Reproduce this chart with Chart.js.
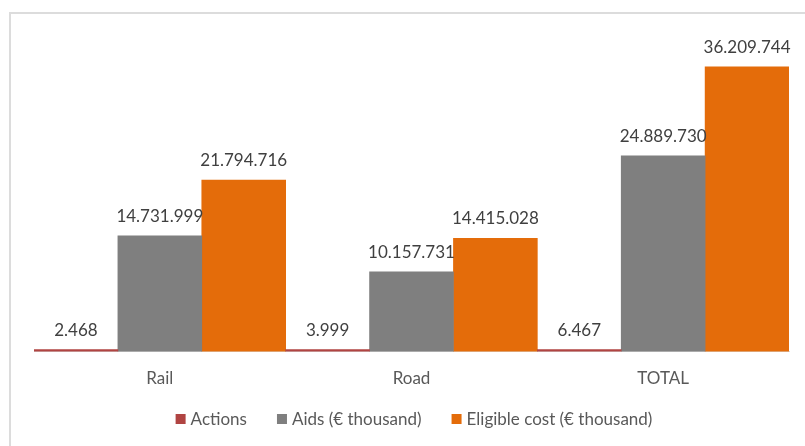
<!DOCTYPE html>
<html>
<head>
<meta charset="utf-8">
<script src="https://cdn.jsdelivr.net/npm/chart.js@4"></script>
<style>
  html, body { margin: 0; padding: 0; background: #fff; }
  #wrap { width: 805px; height: 446px; }
</style>
</head>
<body>
<div id="wrap"><canvas id="aidChart" width="805" height="446"></canvas></div>
<script>
const categories = ['Rail', 'Road', 'TOTAL'];
const actions = [2468, 3999, 6467];
const aids = [14731999, 10157731, 24889730];
const eligibleCost = [21794716, 14415028, 36209744];
const seriesNames = ['Actions', 'Aids (€ thousand)', 'Eligible cost (€ thousand)'];
const seriesColors = ['#b04442', '#7f7f7f', '#e46c0a'];

const FONT = 'Lato, "Open Sans", sans-serif';

// 36209744 -> "36.209.744"
function dotted(n) {
  return String(n).replace(/\B(?=(\d{3})+(?!\d))/g, '.');
}

// light frame around the whole chart
const frame = {
  id: 'frame',
  beforeDraw(chart) {
    const ctx = chart.ctx;
    ctx.save();
    ctx.strokeStyle = '#dcdcdc';
    ctx.lineWidth = 2;
    ctx.strokeRect(10, 13, 900, 600);
    ctx.restore();
  }
};

// value labels above each bar
const valueLabels = {
  id: 'valueLabels',
  afterDatasetsDraw(chart) {
    const ctx = chart.ctx;
    ctx.save();
    ctx.font = '17px ' + FONT;
    ctx.fillStyle = '#404040';
    ctx.textAlign = 'center';
    ctx.textBaseline = 'alphabetic';
    chart.data.datasets.forEach((ds, i) => {
      chart.getDatasetMeta(i).data.forEach((bar, j) => {
        ctx.fillText(dotted(ds.data[j]), bar.x, bar.y - 14);
      });
    });
    ctx.restore();
  }
};

// legend row under the axis
const bottomLegend = {
  id: 'bottomLegend',
  afterDraw(chart) {
    const ctx = chart.ctx;
    const box = 10, gap = 5, spacing = 30;
    ctx.save();
    ctx.font = '17px ' + FONT;
    const items = chart.data.datasets.map(ds => ({
      text: ds.label, color: ds.backgroundColor, w: ctx.measureText(ds.label).width
    }));
    let total = items.reduce((s, it) => s + box + gap + it.w, 0) + spacing * (items.length - 1);
    let x = 414 - total / 2;
    const y = 419;
    ctx.textBaseline = 'middle';
    items.forEach(it => {
      ctx.fillStyle = it.color;
      ctx.fillRect(x, y - 5, box, box);
      x += box + gap;
      ctx.fillStyle = '#595959';
      ctx.fillText(it.text, x, y + 1);
      x += it.w + spacing;
    });
    ctx.restore();
  }
};

new Chart(document.getElementById('aidChart'), {
  type: 'bar',
  data: {
    labels: categories,
    datasets: [
      { label: seriesNames[0], data: actions, backgroundColor: seriesColors[0], minBarLength: 2 },
      { label: seriesNames[1], data: aids, backgroundColor: seriesColors[1] },
      { label: seriesNames[2], data: eligibleCost, backgroundColor: seriesColors[2] }
    ]
  },
  options: {
    responsive: false,
    animation: false,
    devicePixelRatio: 1,
    layout: { padding: { left: 34, right: 16, top: 37, bottom: 40 } },
    datasets: { bar: { categoryPercentage: 1, barPercentage: 1 } },
    plugins: {
      legend: { display: false },
      tooltip: { enabled: false }
    },
    scales: {
      x: {
        grid: { display: false, drawTicks: false },
        border: { color: '#d9d9d9', width: 1 },
        ticks: { color: '#595959', font: { family: FONT, size: 17 }, padding: 17 }
      },
      y: {
        display: false,
        min: 0,
        max: 40000000
      }
    }
  },
  plugins: [frame, valueLabels, bottomLegend]
});
</script>
</body>
</html>
